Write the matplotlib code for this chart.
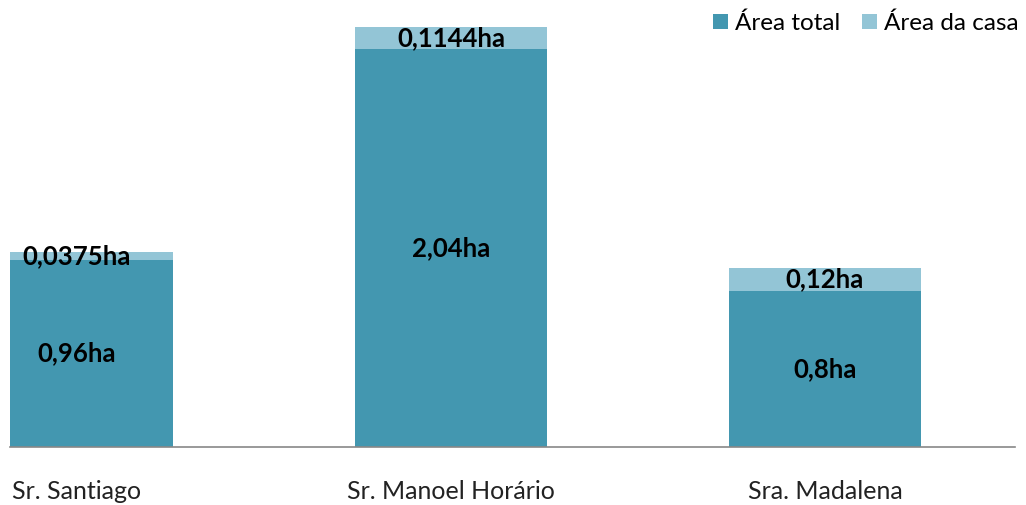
import numpy as np
import matplotlib
matplotlib.use('Agg')
import matplotlib.pyplot as plt

plt.rcParams['font.family'] = ['Lato', 'DejaVu Sans']

nomes = ['Sr. Santiago', 'Sr. Manoel Horário', 'Sra. Madalena']
area_total = [0.96, 2.04, 0.8]
area_casa = [0.0375, 0.1144, 0.12]
rotulos_total = ['0,96ha', '2,04ha', '0,8ha']
rotulos_casa = ['0,0375ha', '0,1144ha', '0,12ha']

cor_total = '#4397b0'
cor_casa = '#93c5d6'

fig = plt.figure(figsize=(10.26, 5.05), dpi=100)
ax = fig.add_axes([10 / 1026, 58 / 505, 1005 / 1026, 429 / 505])

x_pos = np.arange(len(nomes))
largura = 0.513

b1 = ax.bar(x_pos, area_total, largura, color=cor_total, label='Área total')
b2 = ax.bar(x_pos, area_casa, largura, bottom=area_total, color=cor_casa,
            label='Área da casa')

for i in range(len(nomes)):
    ax.text(x_pos[i], area_total[i] / 2, rotulos_total[i], ha='center',
            va='center', fontsize=18.5, fontweight='bold', color='black')
    ax.text(x_pos[i], area_total[i] + area_casa[i] / 2, rotulos_casa[i],
            ha='center', va='center', fontsize=18.5, fontweight='bold',
            color='black')

ax.set_xlim(-0.179, 2.508)
ax.set_ylim(0, 2.2)
ax.set_xticks(x_pos)
ax.set_xticklabels(nomes, fontsize=18, color='#222222')
ax.tick_params(axis='x', length=0, pad=24)
ax.set_yticks([])

for s in ['top', 'right', 'left']:
    ax.spines[s].set_visible(False)
ax.spines['bottom'].set_color('#888888')
ax.spines['bottom'].set_linewidth(1.2)

fig.legend(handles=[b1, b2], loc='upper right', bbox_to_anchor=(1.007, 1.004),
           ncol=2, frameon=False, fontsize=17.5, handlelength=0.6,
           handleheight=0.6, handletextpad=0.3, columnspacing=0.9,
           borderaxespad=0.2)

fig.savefig('out.png', dpi=100)
